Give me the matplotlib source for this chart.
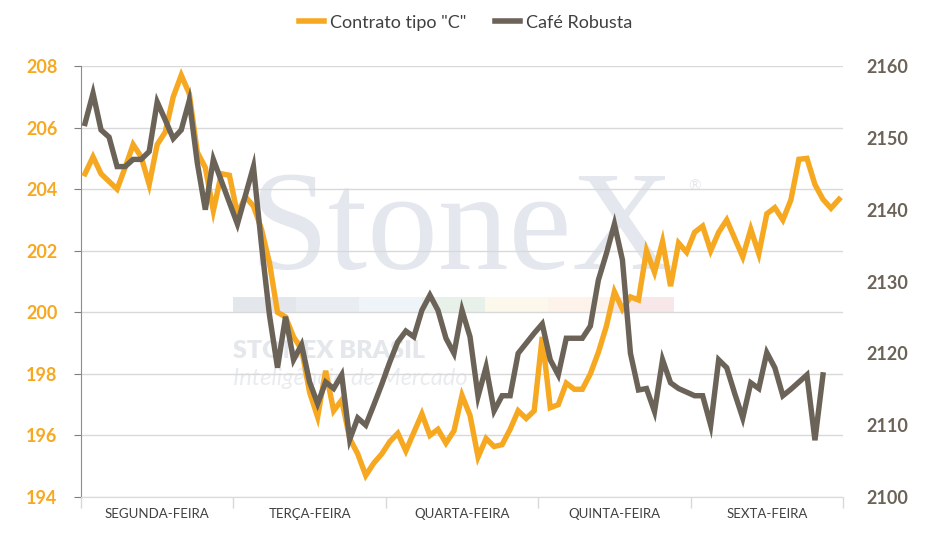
import numpy as np
import matplotlib.pyplot as plt
from matplotlib.lines import Line2D
from matplotlib.patches import Rectangle

plt.rcParams["font.family"] = ["Lato", "DejaVu Sans"]

# dados (leitura do gráfico)
dias = ["SEGUNDA-FEIRA", "TERÇA-FEIRA", "QUARTA-FEIRA", "QUINTA-FEIRA", "SEXTA-FEIRA"]
pontos_por_dia = 19

contrato_c = [
    204.5, 205.05, 204.5, 204.25, 204.0, 204.7, 205.45, 205.05, 204.15, 205.45,
    205.85, 207.0, 207.7, 207.1, 205.2, 204.7, 203.3, 204.5, 204.45, 203.2,
    203.75, 203.45, 202.7, 201.6, 200.0, 199.85, 199.2, 198.8, 197.4, 196.6,
    198.1, 196.8, 197.15, 195.9, 195.4, 194.7, 195.1, 195.4, 195.8, 196.07,
    195.5, 196.1, 196.7, 196.0, 196.2, 195.75, 196.15, 197.3, 196.65, 195.3,
    195.9, 195.64, 195.7, 196.2, 196.8, 196.55, 196.8, 199.2, 196.9, 197.0,
    197.7, 197.5, 197.5, 198.0, 198.7, 199.55, 200.67, 200.1, 200.5, 200.4,
    202.0, 201.3, 202.3, 200.85, 202.25, 201.95, 202.6, 202.8, 202.0, 202.6,
    203.0, 202.4, 201.8, 202.7, 201.9, 203.2, 203.4, 203.0, 203.65, 204.97,
    205.0, 204.15, 203.67, 203.38, 203.67,
]

robusta = [
    2152.0, 2156.2, 2151.1, 2150.1, 2146.0, 2146.0, 2147.0, 2147.0, 2148.1, 2155.0,
    2152.5, 2149.9, 2151.1, 2155.2, 2146.5, 2140.0, 2147.0, 2144.0, 2141.0, 2138.0,
    2142.0, 2146.0, 2135.1, 2125.3, 2118.0, 2125.1, 2119.1, 2121.2, 2116.0, 2113.0,
    2116.0, 2115.1, 2117.0, 2108.0, 2111.0, 2110.0, 2112.8, 2115.7, 2118.8, 2121.6,
    2123.1, 2122.3, 2126.0, 2128.1, 2126.0, 2122.1, 2120.0, 2126.0, 2122.3, 2114.0,
    2118.1, 2112.0, 2114.1, 2114.1, 2120.0, 2121.4, 2122.8, 2124.1, 2119.1, 2117.0,
    2122.1, 2122.1, 2122.1, 2123.8, 2130.2, 2133.9, 2138.0, 2133.0, 2120.0, 2114.9,
    2115.1, 2111.9, 2119.1, 2115.9, 2115.1, 2114.6, 2114.1, 2114.1, 2110.0, 2119.1,
    2118.0, 2114.4, 2111.0, 2115.9, 2115.1, 2120.1, 2118.0, 2114.1, 2115.0, 2116.0,
    2117.0, 2107.9, 2117.0,
]

cor_c = "#F6A821"
cor_r = "#6B6358"
cor_grade = "#D9D9D9"

fig = plt.figure(figsize=(9.31, 5.38), dpi=100)
ax = fig.add_axes([0.087, 0.0762, 0.8185, 0.8011])
ax2 = ax.twinx()

# marca d'água
ax.text(0.5, 0.53, "StoneX", transform=ax.transAxes, ha="center", va="baseline",
        fontsize=102, family="Liberation Serif", color="#E4E8EE", zorder=0)
ax.text(0.805, 0.72, "®", transform=ax.transAxes, ha="center", va="center",
        fontsize=11, color="#E4E8EE", zorder=0)
cores_barra = ["#E3E7EC", "#E9EDF2", "#EFF4F8", "#E8F0EA", "#FCF8EC", "#FDF3EA", "#F8E7E9"]
for k, c in enumerate(cores_barra):
    ax.add_patch(Rectangle((0.2 + k * 0.0826, 0.426), 0.0826, 0.037,
                           transform=ax.transAxes, color=c, lw=0, zorder=0))
ax.text(0.2, 0.322, "STONEX BRASIL", transform=ax.transAxes, ha="left",
        va="baseline", fontsize=18, fontweight="heavy", color="#E4E7EB", zorder=0)
ax.text(0.2, 0.26, "Inteligência de Mercado", transform=ax.transAxes, ha="left",
        va="baseline", fontsize=17, style="italic", color="#E9ECEF", zorder=0)

x_c = np.arange(len(contrato_c))
x_r = np.arange(len(robusta))
ax.plot(x_c, contrato_c, color=cor_c, lw=3.9, solid_joinstyle="miter", zorder=3)
ax2.plot(x_r, robusta, color=cor_r, lw=3.9, solid_joinstyle="miter", zorder=3)

n_total = pontos_por_dia * len(dias)
ax.set_xlim(-0.5, n_total - 0.5)
ax.set_ylim(194, 208)
ax2.set_ylim(2100, 2160)
ax.set_yticks(np.arange(194, 209, 2))
ax2.set_yticks(np.arange(2100, 2161, 10))

ax.yaxis.grid(True, color=cor_grade, lw=1)
ax.set_axisbelow(True)

limites = [-0.5 + pontos_por_dia * k for k in range(len(dias) + 1)]
centros = [-0.5 + pontos_por_dia * (k + 0.5) for k in range(len(dias))]
ax.set_xticks(limites)
ax.set_xticklabels([])
ax.tick_params(axis="x", which="major", length=8, color=cor_grade, width=1)
ax.set_xticks(centros, minor=True)
ax.set_xticklabels(dias, minor=True, fontsize=9.5, color="#404040")
ax.tick_params(axis="x", which="minor", length=0, pad=8)

ax.tick_params(axis="y", length=5, color="#7F7F7F", pad=12)
ax2.tick_params(axis="y", length=0, pad=17)
for t in ax.get_yticklabels():
    t.set_color(cor_c)
    t.set_fontweight("bold")
    t.set_fontsize(13)
for t in ax2.get_yticklabels():
    t.set_color(cor_r)
    t.set_fontweight("bold")
    t.set_fontsize(13)

for a in (ax, ax2):
    a.spines["top"].set_visible(False)
    a.spines["right"].set_visible(False)
ax2.spines["left"].set_visible(False)
ax2.spines["bottom"].set_visible(False)
ax.spines["left"].set_color("#8C8C8C")
ax.spines["bottom"].set_color(cor_grade)

handles = [Line2D([0], [0], color=cor_c, lw=4),
           Line2D([0], [0], color=cor_r, lw=4)]
fig.legend(handles, ['Contrato tipo "C"', "Café Robusta"], loc="center",
           bbox_to_anchor=(0.5, 0.958), ncol=2, frameon=False, fontsize=13,
           handlelength=1.4, handletextpad=0.3, columnspacing=1.6,
           labelcolor="#404040")

fig.savefig("out.png", dpi=100)
